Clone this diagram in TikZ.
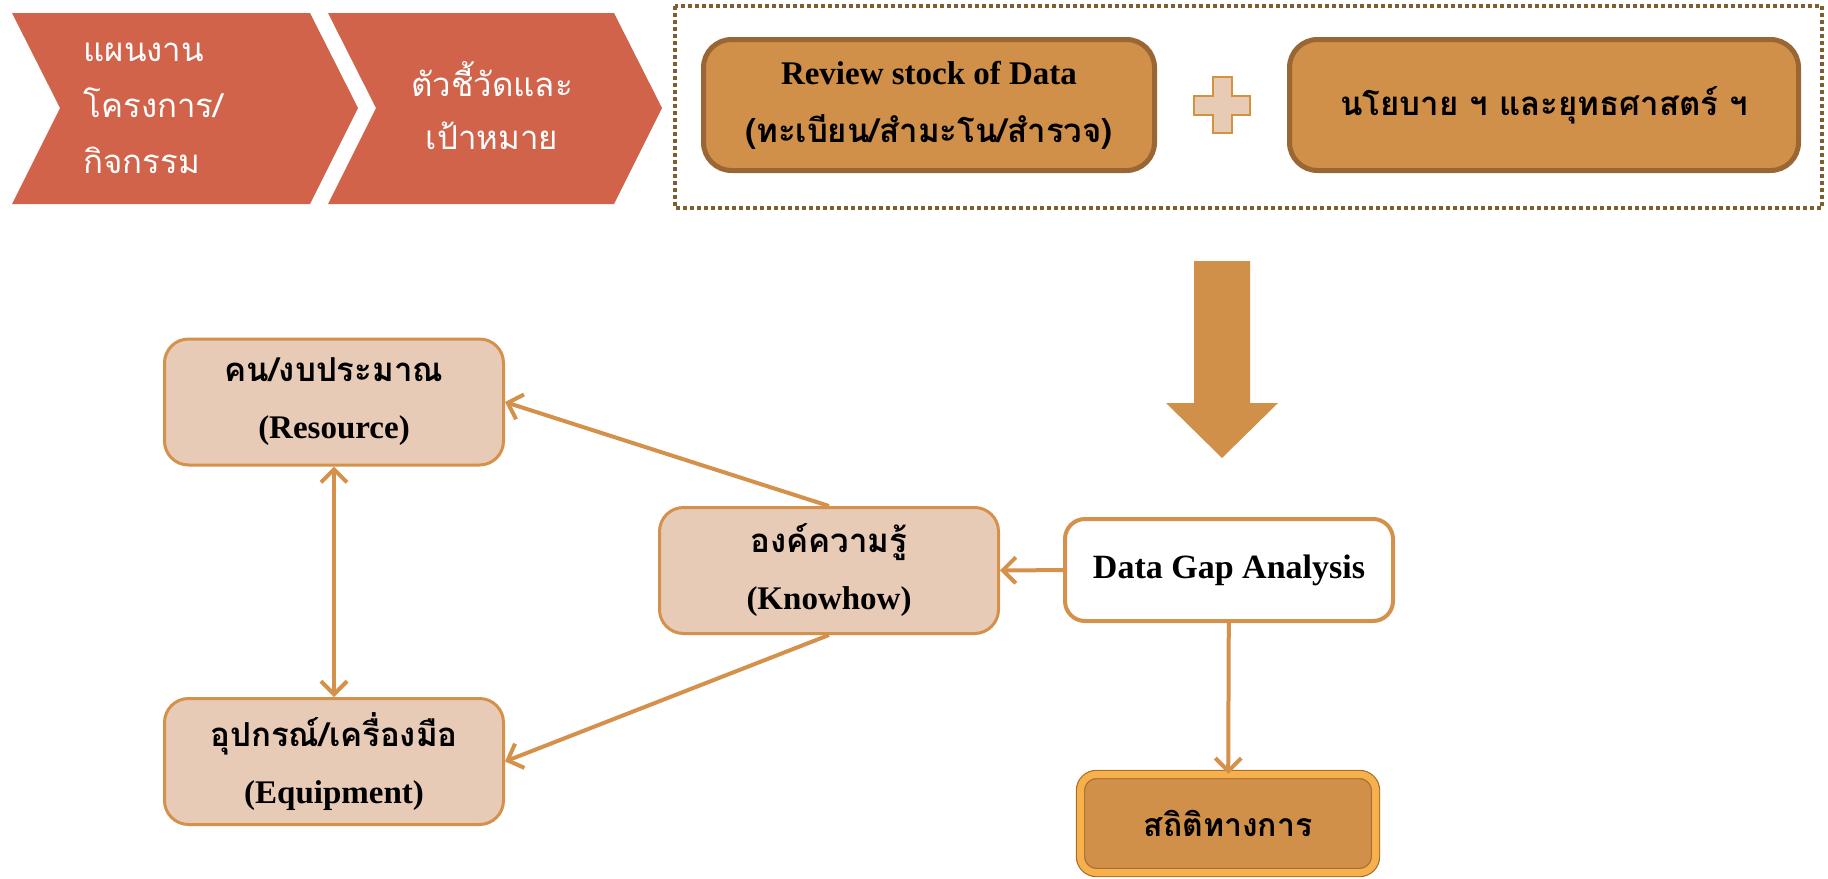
\documentclass[tikz,border=0pt]{standalone}
\usepackage{fontspec}
\setmainfont{Liberation Serif}
\newfontfamily\thaifont[Script=Thai]{Loma}
\usetikzlibrary{arrows.meta, positioning, calc}

\definecolor{chevronred}{HTML}{D1634B}
\definecolor{framebrown}{HTML}{7F5E32}
\definecolor{stockfill}{HTML}{D09049}
\definecolor{stockedge}{HTML}{9A6734}
\definecolor{plusfill}{HTML}{E8CBB5}
\definecolor{plusedge}{HTML}{D4913F}
\definecolor{softfill}{HTML}{E8CBB7}
\definecolor{softedge}{HTML}{D4914B}
\definecolor{statgold}{HTML}{F6B04C}
\definecolor{statedge}{HTML}{A86E30}

\begin{document}
\begin{tikzpicture}[
    x=1pt, y=-1pt,
    >={Straight Barb[length=13pt, width=26pt]},
    chevron/.style={fill=chevronred, draw=none},
    chevtext/.style={text=white, align=left, font=\thaifont\fontsize{33}{56}\selectfont},
    stockbox/.style={rectangle, draw=stockedge, fill=stockfill, line width=5pt, rounded corners=28pt, minimum height=131pt, align=center, font=\bfseries\fontsize{33}{58}\selectfont},
    softbox/.style={rectangle, draw=softedge, fill=softfill, line width=3pt, rounded corners=24pt, minimum width=339pt, minimum height=126pt, align=center, font=\bfseries\fontsize{33}{57}\selectfont},
    gapbox/.style={rectangle, draw=softedge, fill=white, line width=4pt, rounded corners=20pt, minimum width=328pt, minimum height=102pt, font=\bfseries\fontsize{34}{40}\selectfont},
    statbox/.style={rectangle, draw=statedge, line width=1.2pt, double=statgold, double distance=7pt, fill=stockfill, rounded corners=16pt, minimum width=295pt, minimum height=98pt, font=\thaifont\bfseries\fontsize{32}{38}\selectfont},
    link/.style={->, draw=softedge, line width=4pt},
    duallink/.style={<->, draw=softedge, line width=4pt}
]
    \useasboundingbox (0,0) rectangle (1828,878);

    % Chevrons
    \fill[chevron] (12,13) -- (310,13) -- (358,108) -- (310,204) -- (12,204) -- (60,108) -- cycle;
    \fill[chevron] (328,13) -- (614,13) -- (662,108) -- (614,204) -- (328,204) -- (376,108) -- cycle;
    \node (plan) [chevtext, anchor=west] at (80,108) {แผนงาน\\โครงการ/\\กิจกรรม};
    \node (target) [chevtext, align=center, font=\thaifont\fontsize{33}{53}\selectfont] at (492,106) {ตัวชี้วัดและ\\เป้าหมาย};

    % Dotted frame
    \draw[framebrown, line width=4pt, dash pattern=on 4pt off 3pt] (675,6) rectangle (1822,208);

    % Top boxes
    \node (stock) [stockbox, minimum width=451pt] at (929,105) {Review stock of Data\\{\thaifont (ทะเบียน/สำมะโน/สำรวจ)}};
    \node (policy) [stockbox, minimum width=509pt] at (1544,105) {\thaifont นโยบาย ฯ และยุทธศาสตร์ ฯ};
    \draw[fill=plusfill, draw=plusedge, line width=2pt]
        (1212.5,77) -- (1231.5,77) -- (1231.5,95.5) -- (1250,95.5) -- (1250,114.5) -- (1231.5,114.5)
        -- (1231.5,133) -- (1212.5,133) -- (1212.5,114.5) -- (1194,114.5) -- (1194,95.5) -- (1212.5,95.5) -- cycle;

    % Big arrow
    \fill[stockfill] (1194,261) -- (1250,261) -- (1250,403) -- (1278,403) -- (1222,458) -- (1166,403) -- (1194,403) -- cycle;

    % Lower nodes
    \node (resource) [softbox] at (334,402) {{\thaifont คน/งบประมาณ}\\(Resource)};
    \node (knowhow) [softbox] at (829,570.5) {{\thaifont องค์ความรู้}\\(Knowhow)};
    \node (equipment) [softbox] at (334,761.5) {{\thaifont อุปกรณ์/เครื่องมือ}\\(Equipment)};
    \node (gap) [gapbox] at (1229,570) {Data Gap Analysis};
    \node (stat) [statbox] at (1228,823.5) {สถิติทางการ};

    % Connectors
    \draw[link] (gap) -- (knowhow);
    \draw[link] (gap) -- (stat);
    \draw[link] (knowhow.north) -- (resource.east);
    \draw[link] (knowhow.south) -- (equipment.east);
    \draw[duallink] (resource) -- (equipment);

\end{tikzpicture}
\end{document}
